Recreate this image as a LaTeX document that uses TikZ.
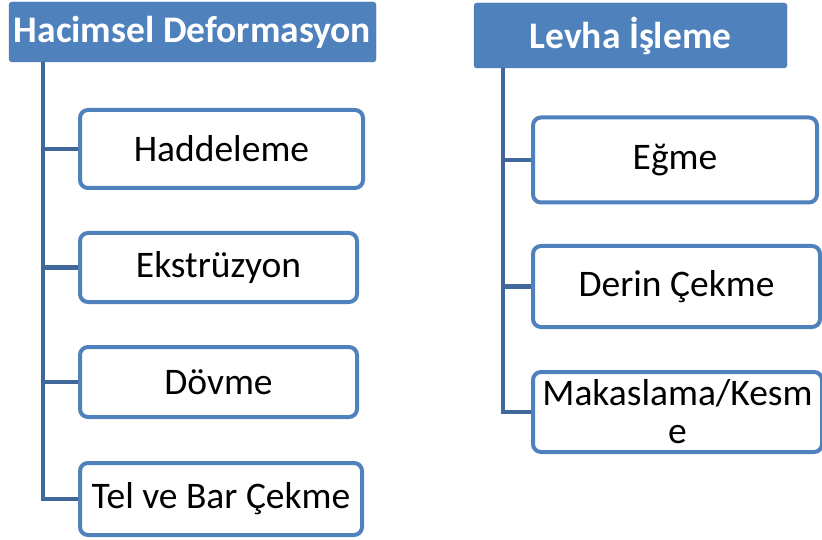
\documentclass[tikz,border=0pt]{standalone}
\usepackage{fontspec}
\setmainfont{Carlito}
\usetikzlibrary{positioning}
\definecolor{hdblue}{HTML}{4F81BD}
\definecolor{trunkblue}{HTML}{41689A}
\tikzset{
	head/.style={
		rectangle, fill=hdblue, draw=hdblue!92!black, text=white,
		font=\fontsize{37.5}{40}\selectfont\bfseries,
		rounded corners=3pt, inner sep=0pt,
	},
	item/.style={
		rectangle, draw=hdblue, line width=4pt, fill=white,
		font=\fontsize{37.5}{38}\selectfont, align=center,
		rounded corners=8pt, inner sep=0pt,
	},
	branch/.style={
		draw=trunkblue, line width=4.5pt,
	}
}

\begin{document}
\begin{tikzpicture}[x=1pt, y=-1pt]
		\useasboundingbox (0,0) rectangle (822,540);
		
		% Hacimsel Deformasyon
		\node [head, minimum width=367pt, minimum height=60pt] (hd) at (192.5,32) {Hacimsel Deformasyon};
		\coordinate [right=34pt of hd.south west] (hdt);
		\path [branch] (hdt) |- (221.5,149) coordinate (b1);
		\path [branch] (hdt) |- (218.5,267.5) coordinate (b2);
		\path [branch] (hdt) |- (218.5,382) coordinate (b3);
		\path [branch] (hdt) |- (221,499) coordinate (b4);
		\node [item, minimum width=283pt, minimum height=78pt] (had) at (b1) {Haddeleme};
		\node [item, minimum width=277pt, minimum height=69pt] (eks) at (b2) {Ekstrüzyon};
		\node [item, minimum width=277pt, minimum height=70pt] (dov) at (b3) {Dövme};
		\node [item, minimum width=282pt, minimum height=72pt] (tel) at (b4) {Tel ve Bar Çekme};
		
		% Levha Isleme
		\node [head, minimum width=313pt, minimum height=65pt] (lv) at (630.5,35.5) {Levha İşleme};
		\coordinate [right=29pt of lv.south west] (lvt);
		\path [branch] (lvt) |- (675,160) coordinate (c1);
		\path [branch] (lvt) |- (676.5,286.5) coordinate (c2);
		\path [branch] (lvt) |- (677.5,412) coordinate (c3);
		\node [item, minimum width=284pt, minimum height=85pt] (egm) at (c1) {Eğme};
		\node [item, minimum width=287pt, minimum height=81pt] (der) at (c2) {Derin Çekme};
		\node [item, minimum width=289pt, minimum height=80pt] (mak) at (c3) {Makaslama/Kesm\\e};
\end{tikzpicture}
\end{document}
